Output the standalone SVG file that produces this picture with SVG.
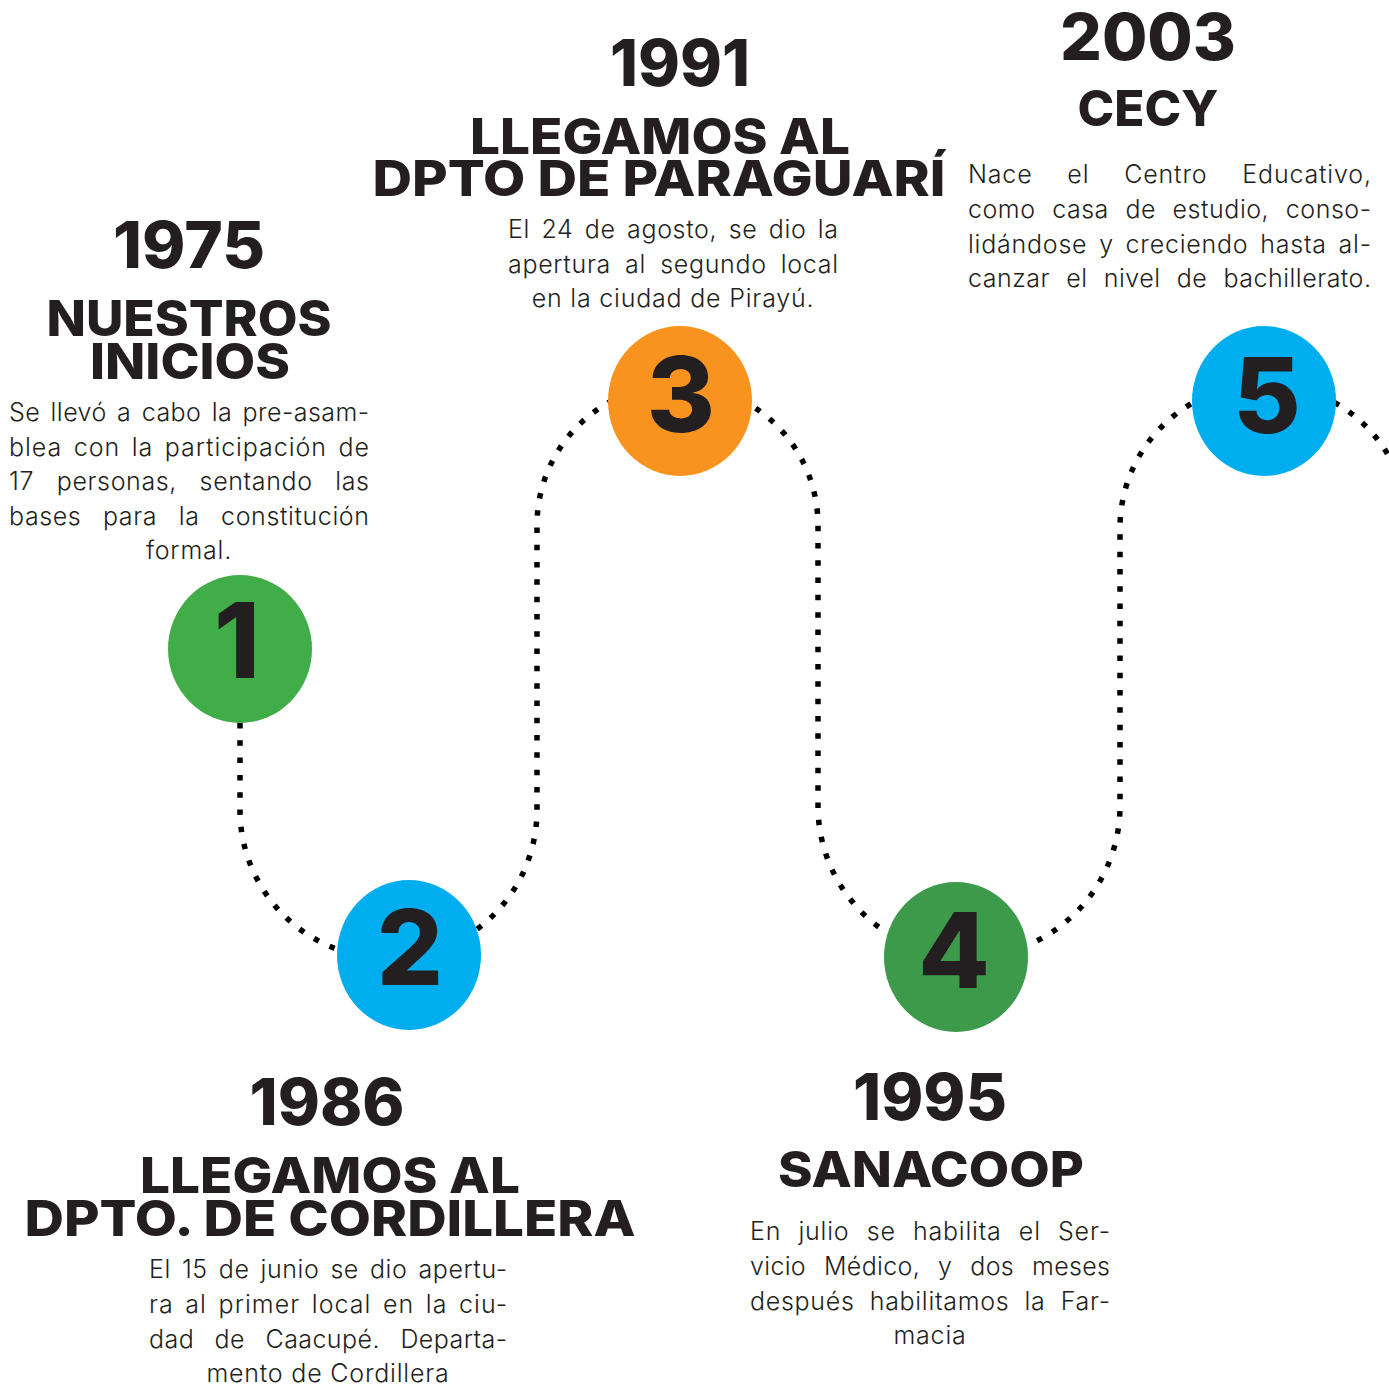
<svg xmlns="http://www.w3.org/2000/svg" width="1389" height="1386" viewBox="0 0 1389 1386">
<style>
.h{font-family:Inter,"Noto Sans","DejaVu Sans",sans-serif;font-weight:800;fill:#231F20;text-anchor:middle}
.yr{font-size:64px}
.tt{font-size:50px}
.num{font-family:Inter,"Noto Sans","DejaVu Sans",sans-serif;font-weight:800;fill:#231F20;text-anchor:middle;font-size:104px}
.b{font-family:Inter,"Noto Sans","DejaVu Sans",sans-serif;font-weight:300;font-size:25px;fill:#231F20}
.c{text-anchor:middle;letter-spacing:0.8px}
.dots{fill:none;stroke:#000;stroke-width:5.5;stroke-dasharray:5.5 11.8}
</style>
<rect width="1389" height="1386" fill="#fff"/>
<g id="connectors">
<path class="dots" d="M240,723 V810 A148.5,148.5 0 0 0 537,810 V525 A140.5,140.5 0 0 1 818,525 V806 A151,151 0 0 0 1120,806 V528 A144,144 0 0 1 1408,528 V1400"/>
</g>
<g id="node1">
<ellipse cx="240" cy="649" rx="72" ry="74" fill="#41AD49"/>
<text class="num" x="237" y="678">1</text>
<text class="h yr" x="189" y="268" textLength="152" lengthAdjust="spacingAndGlyphs">1975</text>
<text class="h tt" x="189" y="336" textLength="285" lengthAdjust="spacingAndGlyphs">NUESTROS</text>
<text class="h tt" x="190" y="379" textLength="200" lengthAdjust="spacingAndGlyphs">INICIOS</text>
<text class="b" x="9" y="421" word-spacing="3" textLength="360" lengthAdjust="spacing">Se llevó a cabo la pre-asam-</text>
<text class="b" x="9" y="456" word-spacing="3.7" textLength="360" lengthAdjust="spacing">blea con la participación de</text>
<text class="b" x="9" y="490" word-spacing="15" textLength="360" lengthAdjust="spacing">17 personas, sentando las</text>
<text class="b" x="9" y="525" word-spacing="14" textLength="360" lengthAdjust="spacing">bases para la constitución</text>
<text class="b c" x="189" y="559">formal.</text>
</g>
<g id="node2">
<ellipse cx="409" cy="955" rx="72" ry="75" fill="#00AEEF"/>
<text class="num" x="410" y="985">2</text>
<text class="h yr" x="327" y="1125" textLength="155" lengthAdjust="spacingAndGlyphs">1986</text>
<text class="h tt" x="330" y="1193" textLength="380" lengthAdjust="spacingAndGlyphs">LLEGAMOS AL</text>
<text class="h tt" x="330" y="1236" textLength="611" lengthAdjust="spacingAndGlyphs">DPTO. DE CORDILLERA</text>
<text class="b" x="149" y="1278" word-spacing="3.5" textLength="358" lengthAdjust="spacing">El 15 de junio se dio apertu-</text>
<text class="b" x="149" y="1313" word-spacing="3.5" textLength="358" lengthAdjust="spacing">ra al primer local en la ciu-</text>
<text class="b" x="149" y="1348" word-spacing="13" textLength="358" lengthAdjust="spacing">dad de Caacupé. Departa-</text>
<text class="b c" x="328" y="1382">mento de Cordillera</text>
</g>
<g id="node3">
<ellipse cx="680" cy="401" rx="72" ry="75" fill="#F7931E"/>
<text class="num" x="681" y="432">3</text>
<text class="h yr" x="680" y="86" textLength="140" lengthAdjust="spacingAndGlyphs">1991</text>
<text class="h tt" x="660" y="154" textLength="380" lengthAdjust="spacingAndGlyphs">LLEGAMOS AL</text>
<text class="h tt" x="659" y="196" textLength="573" lengthAdjust="spacingAndGlyphs">DPTO DE PARAGUARÍ</text>
<text class="b" x="508" y="238" word-spacing="3.8" textLength="330" lengthAdjust="spacing">El 24 de agosto, se dio la</text>
<text class="b" x="508" y="273" word-spacing="6.4" textLength="330" lengthAdjust="spacing">apertura al segundo local</text>
<text class="b c" x="673" y="307">en la ciudad de Pirayú.</text>
</g>
<g id="node4">
<ellipse cx="956" cy="957" rx="72" ry="75" fill="#3D9A4B"/>
<text class="num" x="954" y="988">4</text>
<text class="h yr" x="930" y="1120" textLength="154" lengthAdjust="spacingAndGlyphs">1995</text>
<text class="h tt" x="931" y="1187" textLength="306" lengthAdjust="spacingAndGlyphs">SANACOOP</text>
<text class="b" x="750" y="1240" word-spacing="9.4" textLength="360" lengthAdjust="spacing">En julio se habilita el Ser-</text>
<text class="b" x="750" y="1275" word-spacing="10.7" textLength="360" lengthAdjust="spacing">vicio Médico, y dos meses</text>
<text class="b" x="750" y="1310" word-spacing="7.5" textLength="360" lengthAdjust="spacing">después habilitamos la Far-</text>
<text class="b c" x="930" y="1344">macia</text>
</g>
<g id="node5">
<ellipse cx="1264" cy="401" rx="72" ry="75" fill="#00AEEF"/>
<text class="num" x="1267" y="433">5</text>
<text class="h yr" x="1148" y="60" textLength="176" lengthAdjust="spacingAndGlyphs">2003</text>
<text class="h tt" x="1148" y="126" textLength="141" lengthAdjust="spacingAndGlyphs">CECY</text>
<text class="b" x="968" y="183" word-spacing="27" textLength="403" lengthAdjust="spacing">Nace el Centro Educativo,</text>
<text class="b" x="968" y="218" word-spacing="9" textLength="403" lengthAdjust="spacing">como casa de estudio, conso-</text>
<text class="b" x="968" y="253" word-spacing="4" textLength="403" lengthAdjust="spacing">lidándose y creciendo hasta al-</text>
<text class="b" x="968" y="287" word-spacing="8.7" textLength="403" lengthAdjust="spacing">canzar el nivel de bachillerato.</text>
</g>
</svg>
